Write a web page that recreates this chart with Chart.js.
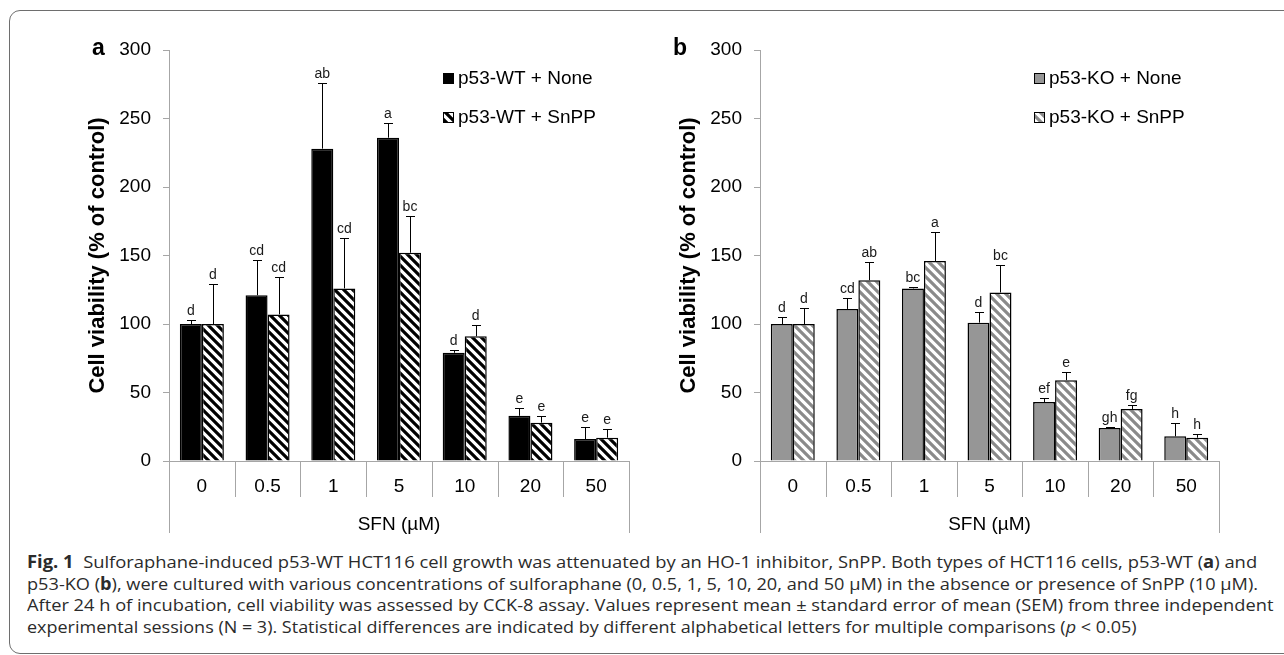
<!DOCTYPE html>
<html>
<head>
<meta charset="utf-8">
<script src="https://cdn.jsdelivr.net/npm/chart.js@4.4.1/dist/chart.umd.min.js"></script>
<style>
    html, body { margin: 0; padding: 0; background: #fff; }
    body { width: 1284px; height: 655px; position: relative; overflow: hidden; }
    #cadre { position: absolute; left: 9px; top: 10px; width: 1320px; height: 644px; border: 1.5px solid #6e6e6e; border-radius: 11px; box-sizing: border-box; }
    #graphA { position: absolute; left: 0; top: 0; }
    #graphB { position: absolute; left: 640px; top: 0; }
    #legende { position: absolute; left: 27px; top: 551px; font-family: "Open Sans", "Noto Sans", sans-serif; font-size: 17px; line-height: 21.7px; color: #2b2b2b; }
    #legende div { white-space: nowrap; height: 21.7px; }
    #legende span.l { display: inline-block; transform-origin: 0 0; }
</style>
</head>
<body>
<div id="cadre"></div>
<canvas id="graphA" width="640" height="545"></canvas>
<canvas id="graphB" width="644" height="545"></canvas>
<div id="legende">
    <div><span class="l" data-w="1230"><b>Fig. 1</b>&nbsp;&nbsp;Sulforaphane-induced p53-WT HCT116 cell growth was attenuated by an HO-1 inhibitor, SnPP. Both types of HCT116 cells, p53-WT (<b>a</b>) and</span></div>
    <div><span class="l" data-w="1231">p53-KO (<b>b</b>), were cultured with various concentrations of sulforaphane (0, 0.5, 1, 5, 10, 20, and 50 µM) in the absence or presence of SnPP (10 µM).</span></div>
    <div><span class="l" data-w="1246">After 24 h of incubation, cell viability was assessed by CCK-8 assay. Values represent mean ± standard error of mean (SEM) from three independent</span></div>
    <div><span class="l" data-w="1110">experimental sessions (N = 3). Statistical differences are indicated by different alphabetical letters for multiple comparisons (<i>p</i> &lt; 0.05)</span></div>
</div>
<script>
// données
const categories = ['0', '0.5', '1', '5', '10', '20', '50'];
const graduations = [0, 50, 100, 150, 200, 250, 300];

const wtNone = [100, 121, 228, 236, 79, 33, 16];
const wtNoneSem = [3, 26, 48, 11, 2, 6, 9];
const wtNoneLettres = ['d', 'cd', 'ab', 'a', 'd', 'e', 'e'];
const wtSnpp = [100, 107, 126, 152, 91, 28, 17];
const wtSnppSem = [29, 27, 37, 27, 8, 5, 6];
const wtSnppLettres = ['d', 'cd', 'cd', 'bc', 'd', 'e', 'e'];

const koNone = [100, 111, 126, 101, 43, 24, 18];
const koNoneSem = [5, 8, 1.3, 8, 3, 0.6, 9.5];
const koNoneLettres = ['d', 'cd', 'bc', 'd', 'ef', 'gh', 'h'];
const koSnpp = [100, 132, 146, 123, 59, 38, 17];
const koSnppSem = [12, 13, 21, 20, 6, 3, 3];
const koSnppLettres = ['d', 'ab', 'a', 'bc', 'e', 'fg', 'h'];

const police = '"Liberation Sans", Arial, sans-serif';
Chart.defaults.font.family = police;

// motif hachuré (\\\)
const hachure = couleur => {
    const c = document.createElement('canvas');
    c.width = 9;
    c.height = 9;
    const x = c.getContext('2d');
    x.fillStyle = '#fff';
    x.fillRect(0, 0, 9, 9);
    x.strokeStyle = couleur;
    x.lineWidth = 3.2;
    x.beginPath();
    [-1, 0, 1].forEach(k => {
        x.moveTo(k * 9 - 2, -2);
        x.lineTo(k * 9 + 11, 11);
    });
    x.stroke();
    return x.createPattern(c, 'repeat');
}

// barres d'erreur (SEM) et lettres statistiques
const barresErreur = {
    id: 'barresErreur',
    afterDatasetsDraw(chart) {
        const ctx = chart.ctx;
        const y = chart.scales.y;
        chart.data.datasets.forEach((ds, i) => {
            chart.getDatasetMeta(i).data.forEach((bar, j) => {
                const haut = Math.round(y.getPixelForValue(ds.data[j] + ds.sem[j])) + 0.5;
                const bx = Math.round(bar.x) + 0.5;
                ctx.save();
                ctx.strokeStyle = '#000';
                ctx.lineWidth = 1;
                ctx.beginPath();
                ctx.moveTo(bx, bar.y);
                ctx.lineTo(bx, haut);
                ctx.moveTo(bx - 4.5, haut);
                ctx.lineTo(bx + 4.5, haut);
                ctx.stroke();
                ctx.fillStyle = '#1a1a1a';
                ctx.font = '14px ' + police;
                ctx.textAlign = 'center';
                ctx.textBaseline = 'alphabetic';
                ctx.fillText(ds.lettres[j], bar.x, haut - 6);
                ctx.restore();
            });
        });
    }
};

// séparateurs de l'axe des catégories, légende et lettre du panneau
const cadreAxe = {
    id: 'cadreAxe',
    afterDraw(chart, args, opts) {
        const ctx = chart.ctx;
        const x = chart.scales.x;
        const n = chart.data.labels.length;
        ctx.save();
        ctx.strokeStyle = '#a6a6a6';
        ctx.lineWidth = 1;
        ctx.beginPath();
        for (let i = 0; i <= n; i++) {
            const px = Math.round(x.getPixelForValue(i - 0.5)) + 0.5;
            ctx.moveTo(px, x.top);
            ctx.lineTo(px, x.top + (i === 0 || i === n ? 72 : 36));
        }
        ctx.stroke();

        const ca = chart.chartArea;
        chart.data.datasets.forEach((ds, i) => {
            const ly = 78 + i * 39;
            const lx = ca.left + 274;
            ctx.fillStyle = ds.backgroundColor;
            ctx.fillRect(lx, ly - 5, 11, 11);
            ctx.strokeStyle = '#000';
            ctx.strokeRect(lx + 0.5, ly - 4.5, 10, 10);
            ctx.fillStyle = '#000';
            ctx.font = '19px ' + police;
            ctx.textAlign = 'left';
            ctx.textBaseline = 'middle';
            ctx.fillText(ds.label, lx + 15, ly + 1);
        });

        ctx.fillStyle = '#000';
        ctx.font = 'bold 23px ' + police;
        ctx.textAlign = 'left';
        ctx.textBaseline = 'alphabetic';
        ctx.fillText(opts.lettre, opts.lettreX, 55);
        ctx.restore();
    }
};

const creerConfig = (datasets, lettre, lettreX, largeurAxe, titrePad, droite) => ({
    type: 'bar',
    data: {
        labels: categories,
        datasets: datasets
    },
    options: {
        responsive: false,
        animation: false,
        layout: {
            padding: { left: 0, top: 50, right: droite, bottom: 0 }
        },
        datasets: {
            bar: { categoryPercentage: 0.67, barPercentage: 1.0 }
        },
        plugins: {
            legend: { display: false },
            tooltip: { enabled: false },
            cadreAxe: { lettre: lettre, lettreX: lettreX }
        },
        scales: {
            x: {
                grid: { display: false, drawTicks: false },
                border: { color: '#a6a6a6' },
                ticks: { color: '#000', font: { size: 19 }, padding: 14 },
                title: {
                    display: true,
                    text: 'SFN (µM)',
                    color: '#000',
                    font: { size: 19 },
                    padding: { top: 0, bottom: 9 }
                },
                afterFit: s => { s.height = 84; }
            },
            y: {
                min: 0,
                max: 300,
                afterBuildTicks: s => { s.ticks = graduations.map(v => ({ value: v })); },
                ticks: { color: '#000', font: { size: 19 }, padding: 12 },
                grid: { drawOnChartArea: false, drawTicks: true, tickLength: 6, color: '#a6a6a6' },
                border: { color: '#a6a6a6' },
                title: {
                    display: true,
                    text: 'Cell viability (% of control)',
                    color: '#000',
                    font: { size: 22, weight: 'bold' },
                    padding: { top: titrePad, bottom: 0 }
                },
                afterFit: s => { s.width = largeurAxe; }
            }
        }
    },
    plugins: [barresErreur, cadreAxe]
});

// Premier graphique (p53-WT)
const datasetsA = [{
    label: 'p53-WT + None',
    data: wtNone,
    sem: wtNoneSem,
    lettres: wtNoneLettres,
    backgroundColor: '#000',
    borderColor: '#000',
    borderWidth: 1.5
}, {
    label: 'p53-WT + SnPP',
    data: wtSnpp,
    sem: wtSnppSem,
    lettres: wtSnppLettres,
    backgroundColor: hachure('#000'),
    borderColor: '#000',
    borderWidth: 1.5
}];
var ctxA = document.getElementById('graphA').getContext('2d');
var graphA = new Chart(ctxA, creerConfig(datasetsA, 'a', 92, 169, 84.8, 11));

// Deuxième graphique (p53-KO)
const datasetsB = [{
    label: 'p53-KO + None',
    data: koNone,
    sem: koNoneSem,
    lettres: koNoneLettres,
    backgroundColor: '#969696',
    borderColor: '#000',
    borderWidth: 1.5
}, {
    label: 'p53-KO + SnPP',
    data: koSnpp,
    sem: koSnppSem,
    lettres: koSnppLettres,
    backgroundColor: hachure('#8a8a8a'),
    borderColor: '#000',
    borderWidth: 1.5
}];
var ctxB = document.getElementById('graphB').getContext('2d');
var graphB = new Chart(ctxB, creerConfig(datasetsB, 'b', 33, 120, 35.8, 65));

// ajuste chaque ligne de la légende à sa largeur
document.querySelectorAll('#legende span.l').forEach(s => {
    const cible = parseFloat(s.dataset.w);
    s.style.transform = 'scaleX(' + (cible / s.offsetWidth) + ')';
});
</script>
</body>
</html>
